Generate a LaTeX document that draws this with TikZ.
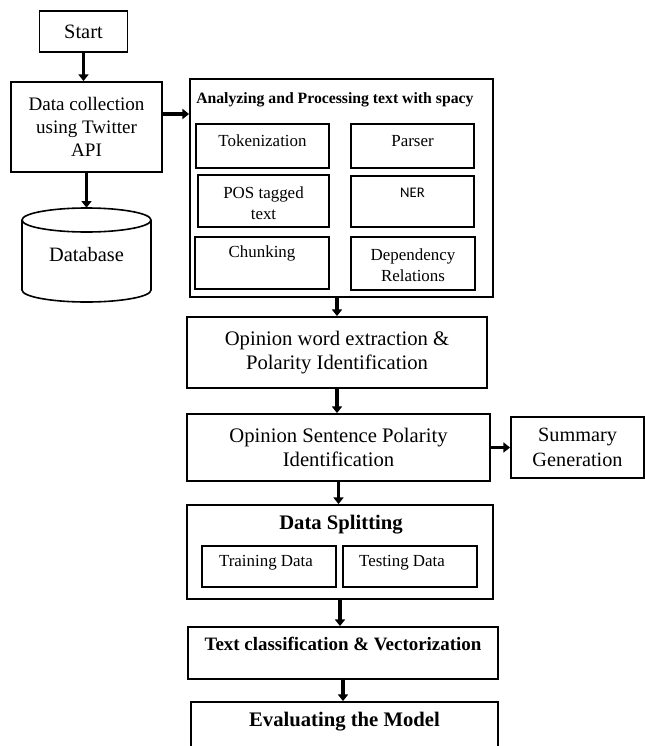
\documentclass[tikz,border=0pt]{standalone}
\usepackage{fontspec}
\setmainfont{Liberation Serif}
\newfontfamily\nerfont{Carlito}
\usetikzlibrary{arrows.meta}
\newcommand\colorBox{black}
\newcommand\boxLine{1.4pt}
\newcommand\arrowLine{2.6pt}
\newcommand\bigText{\fontsize{15.3}{18}\selectfont}
\newcommand\midText{\fontsize{14.3}{17.4}\selectfont}
\newcommand\smallText{\fontsize{12.7}{15.6}\selectfont}
\tikzset{
	box/.style={draw=\colorBox, line width=\boxLine, inner sep=0pt, align=center},
	txt/.style={inner sep=0pt, align=center},
	arr/.style={line width=\arrowLine, -{Triangle[width=7.5pt,length=5pt]}},
}

\begin{document}
\begin{tikzpicture}[x=0.75pt, y=-0.75pt]
	\useasboundingbox (0,0) rectangle (645,746);

	% left column
	\node[box, minimum width=66pt, minimum height=30.75pt, font=\bigText] (start) at (83.5,31.5) {Start};
	\node[box, minimum width=113.25pt, minimum height=67.5pt, font=\midText] (collect) at (86.5,127) {Data collection\\using Twitter\\API};
	\node[txt, minimum width=96.75pt, minimum height=70.5pt, font=\bigText] (db) at (86.5,255) {Database};
	\draw[line width=1.2pt] (86.5,220) ellipse [x radius=48.375pt, y radius=9pt];
	\draw[line width=1.2pt] (22,220) -- (22,290) arc [start angle=180, end angle=360, x radius=48.375pt, y radius=9pt] -- (151,220);

	% spacy block
	\node[box, minimum width=227.25pt, minimum height=163.5pt] (spacy) at (341.5,188) {};
	\node[txt, anchor=west, font=\bfseries\fontsize{11.8}{14}\selectfont] (spacytitle) at (196,100) {Analyzing and Processing text with spacy};
	\node[box, minimum width=99.75pt, minimum height=33pt] (tok) at (262.5,146) {};
	\node[txt, font=\smallText] (toktxt) at (262.5,141) {Tokenization};
	\node[box, minimum width=92.25pt, minimum height=33pt] (parser) at (412.5,146) {};
	\node[txt, font=\smallText] (parsertxt) at (412.5,141) {Parser};
	\node[box, minimum width=98.25pt, minimum height=39pt] (pos) at (263.5,201) {};
	\node[txt, font=\smallText] (postxt) at (263.5,203) {POS tagged\\text};
	\node[box, minimum width=92.25pt, minimum height=38.25pt] (ner) at (412.5,201.5) {};
	\node[txt, font=\nerfont\fontsize{11}{13}\selectfont] (nertxt) at (412.5,193) {NER};
	\node[box, minimum width=100.5pt, minimum height=39pt] (chunk) at (262,263) {};
	\node[txt, font=\smallText] (chunktxt) at (262,253) {Chunking};
	\node[box, minimum width=93pt, minimum height=39.75pt] (dep) at (413,263.5) {};
	\node[txt, font=\smallText] (deptxt) at (413,265) {Dependency\\Relations};

	% main chain
	\node[box, minimum width=225pt, minimum height=53.25pt, font=\fontsize{15.5}{18}\selectfont] (op1) at (337,352.5) {Opinion word extraction \&\\Polarity Identification};
	\node[box, minimum width=227.25pt, minimum height=50.25pt, font=\fontsize{15.5}{18.5}\selectfont] (op2) at (338.5,447.5) {Opinion Sentence Polarity\\Identification};
	\node[box, minimum width=99.75pt, minimum height=45.75pt, font=\fontsize{15.2}{18.5}\selectfont] (summ) at (577.5,447.5) {Summary\\Generation};

	\node[box, minimum width=229.5pt, minimum height=70.5pt] (split) at (340,552) {};
	\node[txt, font=\bfseries\fontsize{15.5}{18}\selectfont] (splittxt) at (341,525) {Data Splitting};
	\node[box, minimum width=100.5pt, minimum height=30.75pt] (train) at (269,566.5) {};
	\node[txt, font=\smallText] (traintxt) at (266,563) {Training Data};
	\node[box, minimum width=100.5pt, minimum height=30.75pt] (test) at (410,566.5) {};
	\node[txt, font=\smallText] (testtxt) at (402,563) {Testing Data};

	\node[box, minimum width=232.5pt, minimum height=39pt] (textcls) at (343,653) {};
	\node[txt, font=\bfseries\fontsize{14.2}{17}\selectfont] (textclstxt) at (343,644) {Text classification \& Vectorization};
	\node[box, minimum width=230.25pt, minimum height=51pt] (eval) at (344.5,736) {};
	\node[txt, font=\bfseries\fontsize{15.5}{18}\selectfont] (evaltxt) at (344.5,722) {Evaluating the Model};

	% arrows
	\draw[arr] (start.south) -- (start.south |- collect.north);
	\draw[arr] (collect.south) -- (db.north);
	\draw[arr] ([yshift=9.75pt]collect.east) -- ([yshift=9.75pt]collect.east -| spacy.west);
	\draw[arr] (spacy.south -| op1.north) -- (op1.north);
	\draw[arr] (op1.south) -- (op1.south |- op2.north);
	\draw[arr] (op2.east) -- (op2.east -| summ.west);
	\draw[arr] (op2.south) -- (op2.south |- split.north);
	\draw[arr] (split.south) -- (split.south |- textcls.north);
	\draw[arr] (textcls.south) -- (textcls.south |- eval.north);
\end{tikzpicture}
\end{document}
